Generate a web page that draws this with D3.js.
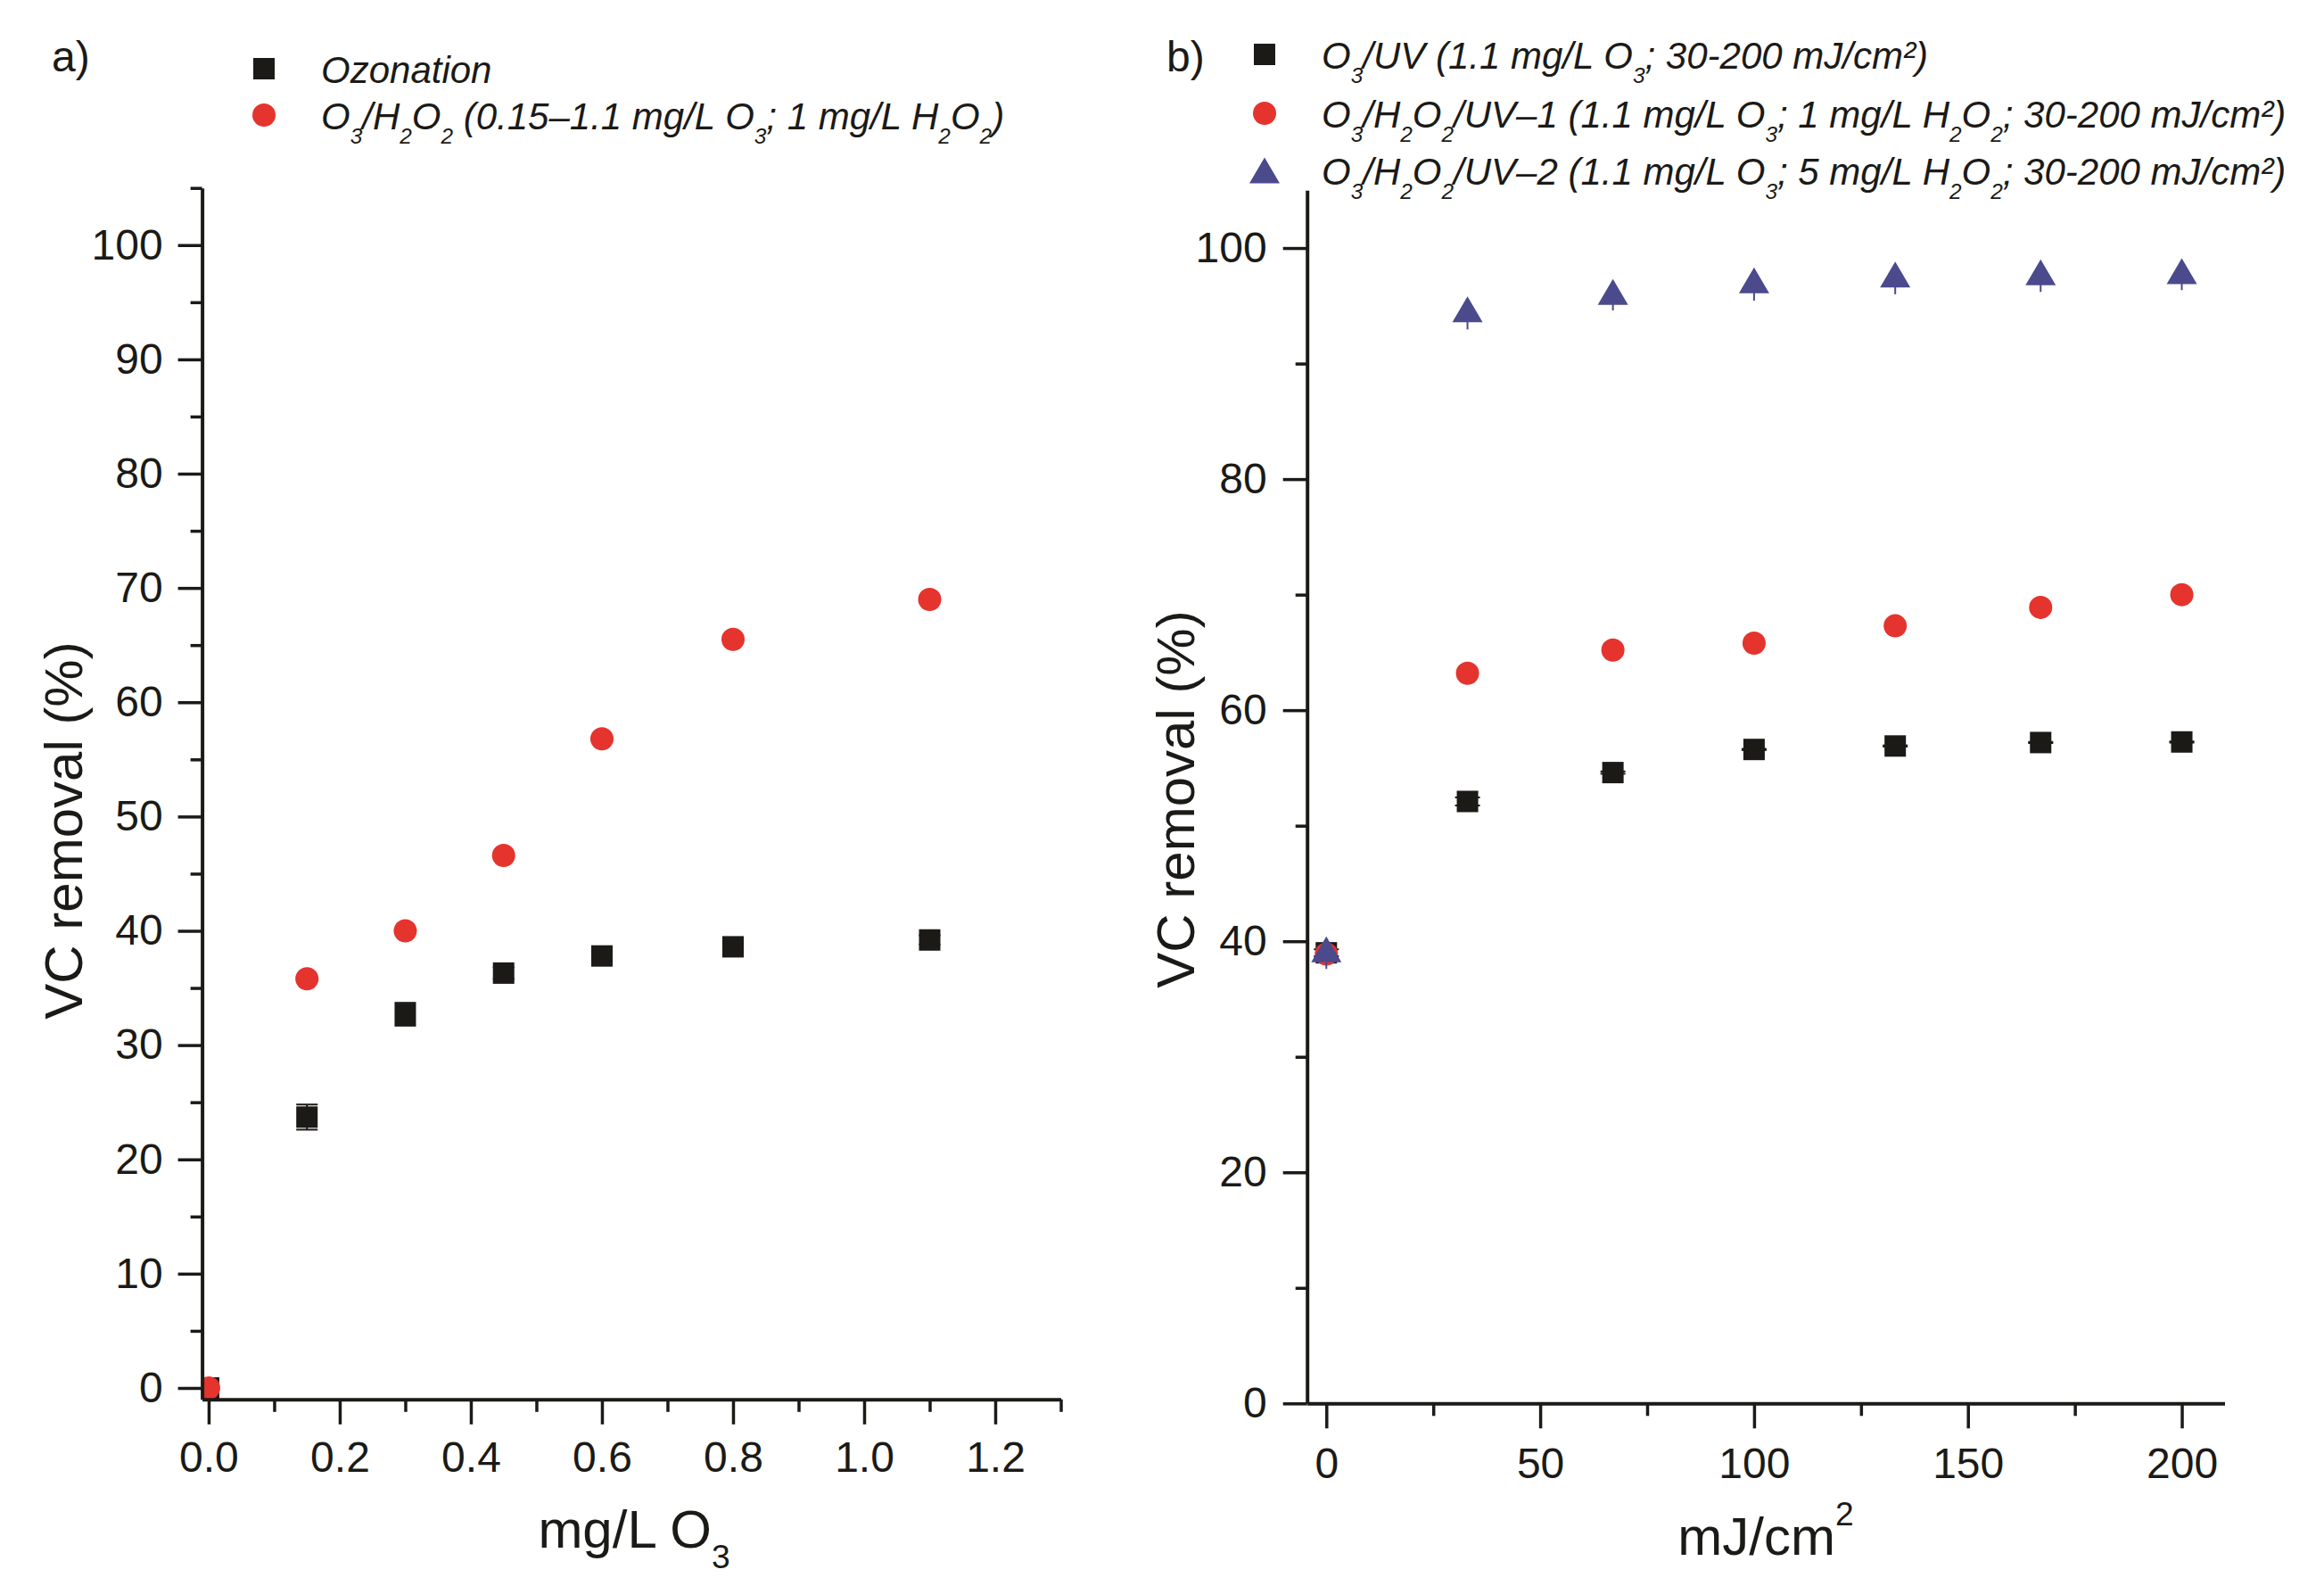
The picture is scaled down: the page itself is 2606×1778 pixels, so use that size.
<!DOCTYPE html>
<html><head><meta charset="utf-8">
<script src="https://cdn.jsdelivr.net/npm/d3@7"></script>
<style>html,body{margin:0;padding:0;background:#fff}text{white-space:pre}</style>
</head><body><script>
// ---------- DATA ----------
// Panel a
const doseA = [0, 0.15, 0.3, 0.45, 0.6, 0.8, 1.1];
const ozonation = [0, 23.7, 32.7, 36.3, 37.8, 38.6, 39.2];
const ozonationErr = [0, 1.1, 1.0, 0.5, 0.4, 0.4, 0.4];
const o3h2o2 = [0, 35.8, 40.0, 46.6, 56.8, 65.5, 69.0];
// Panel b
const uvDose = [0, 33, 67, 100, 133, 167, 200];
const o3uv = [39.0, 52.1, 54.6, 56.6, 56.9, 57.2, 57.25];
const o3uvErr = [0.3, 0.35, 0.1, 0.05, 0.05, 0.05, 0.05];
const o3h2o2uv1 = [38.9, 63.2, 65.2, 65.8, 67.3, 68.9, 70.0];
const o3h2o2uv2 = [39.3, 94.7, 96.2, 97.2, 97.7, 97.9, 98.0];
const o3h2o2uv2ErrMinus = [1.7, 1.75, 1.6, 1.75, 1.7, 1.7, 1.65];

// Ticks
const yMajorA = [0, 10, 20, 30, 40, 50, 60, 70, 80, 90, 100];
const yMinorA = [5, 15, 25, 35, 45, 55, 65, 75, 85, 95, 105];
const xMajorA = [0, 0.2, 0.4, 0.6, 0.8, 1.0, 1.2];
const xMinorA = [0.1, 0.3, 0.5, 0.7, 0.9, 1.1, 1.3];
const yMajorB = [0, 20, 40, 60, 80, 100];
const yMinorB = [10, 30, 50, 70, 90];
const xMajorB = [0, 50, 100, 150, 200];
const xMinorB = [25, 75, 125, 175];

// Text
const legendA = ["Ozonation", "O_{3}/H_{2}O_{2} (0.15–1.1 mg/L O_{3}; 1 mg/L H_{2}O_{2})"];
const legendB = ["O_{3}/UV (1.1 mg/L O_{3}; 30-200 mJ/cm²)",
                 "O_{3}/H_{2}O_{2}/UV–1 (1.1 mg/L O_{3}; 1 mg/L H_{2}O_{2}; 30-200 mJ/cm²)",
                 "O_{3}/H_{2}O_{2}/UV–2 (1.1 mg/L O_{3}; 5 mg/L H_{2}O_{2}; 30-200 mJ/cm²)"];
const xTitleA = "mg/L O_{3}";
const xTitleB = "mJ/cm^{2}";
const yTitle = "VC removal (%)";
const panelLabels = ["a)", "b)"];

// ---------- STYLE ----------
const W = 2606, H = 1778;
const FONT = "'Liberation Sans', Arial, Helvetica, sans-serif";
const INK = "#1b1a17", RED = "#e5332e", NAVY = "#4b4a8d";

const svg = d3.select("body").append("svg").attr("width", W).attr("height", H)
  .attr("viewBox", `0 0 ${W} ${H}`).style("background", "#fff");

function rich(sel, str, fs, subScale, subShift, supShift) {
  const parts = str.split(/(_\{[^}]*\}|\^\{[^}]*\})/).filter(s => s.length);
  let cur = 0;
  parts.forEach(p => {
    let off = 0, size = fs, t = p;
    if (p.startsWith("_{")) { t = p.slice(2, -1); off = subShift; size = fs * subScale; }
    else if (p.startsWith("^{")) { t = p.slice(2, -1); off = -supShift; size = fs * subScale; }
    sel.append("tspan").attr("dy", off - cur).attr("font-size", size).text(t);
    cur = off;
  });
}

const symbols = {
  square: (g, x, y) => g.append("rect").attr("x", x - 12).attr("y", y - 12).attr("width", 24).attr("height", 24).attr("fill", INK),
  circle: (g, x, y) => g.append("circle").attr("cx", x).attr("cy", y).attr("r", 13).attr("fill", RED),
  triangle: (g, x, y) => g.append("path").attr("transform", `translate(${x},${y})`)
      .attr("d", "M0,-14.5L17,14.5L-17,14.5Z").attr("fill", NAVY)
};

function panel(cfg) {
  const { x, y, id } = cfg;
  const [x0, x1] = x.range(), [y0, y1] = y.range();
  svg.append("clipPath").attr("id", id).append("rect")
    .attr("x", x0).attr("y", y1).attr("width", x1 - x0).attr("height", y0 - y1);
  const plot = svg.append("g").attr("clip-path", `url(#${id})`);
  cfg.series.forEach(s => {
    const g = plot.append("g");
    s.values.forEach((v, i) => {
      const cx = x(cfg.xs[i]), cy = y(v);
      if (s.err) {
        const e = s.err[i];
        const top = s.minusOnly ? cy : y(v + e), bot = y(v - e);
        g.append("line").attr("x1", cx).attr("x2", cx).attr("y1", top).attr("y2", bot)
          .attr("stroke", s.color).attr("stroke-width", 2);
        if (!s.minusOnly && e > 0) {
          [top, bot].forEach(yy => g.append("line").attr("x1", cx - s.cap).attr("x2", cx + s.cap)
            .attr("y1", yy).attr("y2", yy).attr("stroke", s.color).attr("stroke-width", 2));
        }
      }
      symbols[s.symbol](g, cx, cy);
    });
  });

  const styleAxis = (sel, hideDomain) => {
    sel.attr("font-family", FONT).attr("font-size", 48);
    sel.select(".domain").attr("stroke", INK).attr("stroke-width", 4)
      .attr("display", hideDomain ? "none" : null);
    sel.selectAll(".tick line").attr("stroke", INK).attr("stroke-width", 3.5);
    sel.selectAll(".tick text").attr("fill", INK);
  };
  // minor
  svg.append("g").attr("transform", `translate(${x0},0)`)
    .call(d3.axisLeft(y).tickValues(cfg.yMinor).tickSize(13).tickSizeOuter(0).tickFormat(""))
    .call(s => styleAxis(s, true));
  svg.append("g").attr("transform", `translate(0,${y0})`)
    .call(d3.axisBottom(x).tickValues(cfg.xMinor).tickSize(14).tickSizeOuter(0).tickFormat(""))
    .call(s => styleAxis(s, true));
  // major
  svg.append("g").attr("transform", `translate(${x0},0)`)
    .call(d3.axisLeft(y).tickValues(cfg.yMajor).tickSize(27).tickPadding(cfg.yPad).tickSizeOuter(0).tickFormat(d3.format("d")))
    .call(s => styleAxis(s, false));
  svg.append("g").attr("transform", `translate(0,${y0})`)
    .call(d3.axisBottom(x).tickValues(cfg.xMajor).tickSize(28).tickPadding(cfg.xPad).tickSizeOuter(0).tickFormat(cfg.xFmt))
    .call(s => styleAxis(s, false));

  // titles
  const xt = svg.append("text").attr("x", cfg.xTitlePos[0]).attr("y", cfg.xTitlePos[1])
    .attr("text-anchor", "middle").attr("font-family", FONT).attr("font-size", 60).attr("fill", INK);
  rich(xt, cfg.xTitle, 60, 0.62, 23, 33);
  svg.append("text").attr("transform", `translate(${cfg.yTitlePos[0]},${cfg.yTitlePos[1]}) rotate(-90)`)
    .attr("text-anchor", "middle").attr("font-family", FONT).attr("font-size", 60).attr("fill", INK)
    .text(yTitle);
  svg.append("text").attr("x", cfg.labelPos[0]).attr("y", cfg.labelPos[1])
    .attr("font-family", FONT).attr("font-size", 48).attr("fill", INK).text(cfg.label);

  // legend
  cfg.legend.forEach((lab, i) => {
    const [sx, sy] = cfg.legendPos[i];
    symbols[cfg.series[i].symbol](svg.append("g"), sx, sy);
    const t = svg.append("text").attr("x", sx + 64).attr("y", sy + 16)
      .attr("font-family", FONT).attr("font-style", "italic").attr("font-size", 42).attr("fill", INK);
    rich(t, lab, 42, 0.58, 16, 16);
  });
}

panel({
  id: "clipA",
  x: d3.scaleLinear([-0.01, 1.3], [226.6, 1189.5]),
  y: d3.scaleLinear([-1, 105], [1568.8, 210.7]),
  xs: doseA,
  series: [
    { values: ozonation, err: ozonationErr, cap: 12, symbol: "square", color: INK },
    { values: o3h2o2, symbol: "circle", color: RED }
  ],
  yMajor: yMajorA, yMinor: yMinorA, xMajor: xMajorA, xMinor: xMinorA,
  xFmt: d3.format(".1f"), xPad: 19, yPad: 17,
  xTitle: xTitleA, xTitlePos: [711, 1735], yTitlePos: [92, 931],
  label: panelLabels[0], labelPos: [58, 80],
  legend: legendA, legendPos: [[296, 77], [296, 129]]
});

panel({
  id: "clipB",
  x: d3.scaleLinear([-4.5, 210], [1465.7, 2494.5]),
  y: d3.scaleLinear([0, 105], [1573.3, 213.3]),
  xs: uvDose,
  series: [
    { values: o3uv, err: o3uvErr, cap: 14, symbol: "square", color: INK },
    { values: o3h2o2uv1, symbol: "circle", color: RED },
    { values: o3h2o2uv2, err: o3h2o2uv2ErrMinus, minusOnly: true, symbol: "triangle", color: NAVY }
  ],
  yMajor: yMajorB, yMinor: yMinorB, xMajor: xMajorB, xMinor: xMinorB,
  xFmt: d3.format("d"), xPad: 22, yPad: 18,
  xTitle: xTitleB, xTitlePos: [1980, 1743], yTitlePos: [1339, 896],
  label: panelLabels[1], labelPos: [1308, 80],
  legend: legendB, legendPos: [[1418, 61], [1418, 127], [1418, 191]]
});
</script></body></html>
